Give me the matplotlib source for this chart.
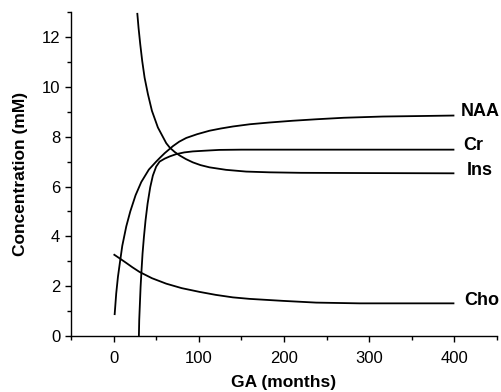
import matplotlib
matplotlib.use("Agg")
import matplotlib.pyplot as plt
from matplotlib.ticker import MultipleLocator

plt.rcParams['font.family'] = ['Liberation Sans', 'DejaVu Sans']

# Data (GA in months, concentration in mM)
naa_x = [1.2, 3.1, 5.1, 7.8, 10.2, 14.9, 19.6, 25.8, 32.5, 41.4, 50.0, 54, 60, 69.6, 77, 85.3, 98, 112.6, 126, 140, 160, 183, 210, 238, 270, 316, 360, 400]
naa_y = [0.84, 1.71, 2.37, 3.04, 3.62, 4.4, 5.0, 5.65, 6.18, 6.68, 7.0, 7.14, 7.34, 7.62, 7.8, 7.95, 8.1, 8.24, 8.33, 8.41, 8.5, 8.57, 8.64, 8.7, 8.76, 8.81, 8.83, 8.85]

cr_x = [29.7, 30.1, 30.9, 31.7, 32.8, 34.0, 35.6, 37.5, 39.9, 43.0, 46.1, 50.0, 54, 60, 66, 73.5, 83, 93, 108, 124, 150, 183, 250, 400]
cr_y = [0.0, 0.64, 1.31, 1.97, 2.64, 3.31, 3.97, 4.64, 5.31, 5.97, 6.44, 6.8, 7.0, 7.12, 7.21, 7.3, 7.37, 7.41, 7.44, 7.47, 7.48, 7.48, 7.48, 7.48]

ins_x = [27.8, 29.3, 31.3, 33.6, 36.4, 40.3, 45.0, 52.0, 61.8, 66, 71.6, 77.4, 85, 93, 102, 112.6, 132, 155.6, 183, 220, 300, 400]
ins_y = [12.97, 12.37, 11.71, 11.04, 10.37, 9.71, 9.04, 8.37, 7.74, 7.56, 7.39, 7.25, 7.1, 6.97, 6.86, 6.77, 6.67, 6.6, 6.57, 6.55, 6.54, 6.53]

cho_x = [0, 7.8, 15, 22, 30.5, 45, 61.8, 80, 100.9, 120, 140, 159.5, 198.6, 237.7, 288.6, 340, 400]
cho_y = [3.28, 3.1, 2.93, 2.76, 2.57, 2.32, 2.1, 1.92, 1.77, 1.65, 1.55, 1.49, 1.41, 1.34, 1.31, 1.31, 1.31]

labels = ['NAA', 'Cr', 'Ins', 'Cho']
label_x = [407, 410, 414, 412]
label_y = [9.0, 7.64, 6.64, 1.44]

fig = plt.figure(figsize=(5.02, 3.92), dpi=100)
ax = fig.add_axes([0.1414, 0.1429, 0.8486, 0.8261])

for xs, ys in [(naa_x, naa_y), (cr_x, cr_y), (ins_x, ins_y), (cho_x, cho_y)]:
    ax.plot(xs, ys, color='black', lw=1.3, solid_joinstyle='round', solid_capstyle='butt')

for lab, xv, yv in zip(labels, label_x, label_y):
    ax.text(xv, yv, lab, fontsize=13, fontweight='bold', va='center', ha='left',
            clip_on=False)

ax.set_xlim(-50, 450)
ax.set_ylim(0, 13)
ax.xaxis.set_major_locator(MultipleLocator(100))
ax.xaxis.set_minor_locator(MultipleLocator(50))
ax.yaxis.set_major_locator(MultipleLocator(2))
ax.yaxis.set_minor_locator(MultipleLocator(1))
ax.spines['top'].set_visible(False)
ax.spines['right'].set_visible(False)
for s in ['left', 'bottom']:
    ax.spines[s].set_linewidth(1.0)
ax.tick_params(which='major', direction='out', length=4.3, width=1, labelsize=12)
ax.tick_params(which='minor', direction='out', length=3, width=1)
ax.tick_params(axis='x', which='major', pad=6.5)
ax.tick_params(axis='y', which='major', pad=3.5)

ax.set_xlabel('GA (months)', fontsize=12.5, fontweight='bold', labelpad=6.5)
ax.set_ylabel('Concentration (mM)', fontsize=12.5, fontweight='bold', labelpad=10)

fig.savefig('out.png', dpi=100)
